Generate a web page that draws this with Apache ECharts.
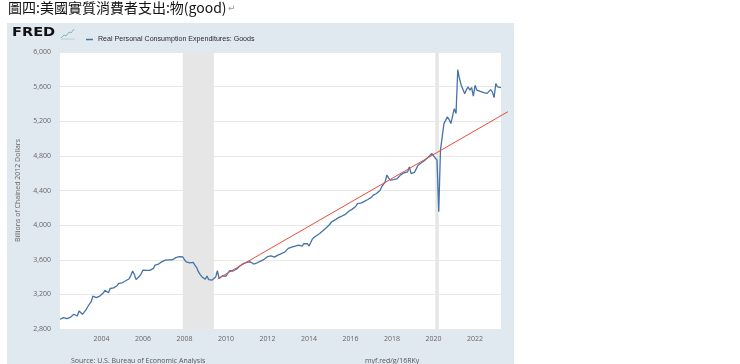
<!DOCTYPE html>
<html><head><meta charset="utf-8">
<script src="https://cdn.jsdelivr.net/npm/echarts@6/dist/echarts.min.js"></script>
<style>html,body{margin:0;padding:0;background:#fff}#c{width:740px;height:364px}</style>
</head><body><div id="c"></div>
<script>
const titleText = '圖四:美國實質消費者支出:物(good)';
const seriesName = 'Real Personal Consumption Expenditures: Goods';
const yAxisTitle = 'Billions of Chained 2012 Dollars';
const sourceText = 'Source: U.S. Bureau of Economic Analysis';
const linkText = 'myf.red/g/16RKy';

const startYear = 2002;
const g2002 = [2913, 2925, 2932, 2935, 2920, 2910, 2935, 2955, 2970, 2962, 2950, 3008];
const g2003 = [2985, 2970, 2995, 3020, 3057, 3080, 3115, 3180, 3168, 3163, 3172, 3180];
const g2004 = [3190, 3215, 3247, 3235, 3218, 3268, 3262, 3275, 3288, 3300, 3327, 3330];
const g2005 = [3334, 3345, 3357, 3370, 3381, 3420, 3470, 3430, 3370, 3385, 3412, 3440];
const g2006 = [3481, 3480, 3478, 3481, 3478, 3488, 3500, 3539, 3540, 3550, 3565, 3578];
const g2007 = [3590, 3596, 3600, 3598, 3604, 3600, 3615, 3624, 3630, 3635, 3640, 3632];
const g2008 = [3600, 3575, 3558, 3565, 3577, 3570, 3539, 3510, 3462, 3430, 3404, 3390];
const g2009 = [3374, 3412, 3370, 3357, 3365, 3374, 3400, 3473, 3384, 3405, 3415, 3423];
const g2010 = [3412, 3420, 3473, 3480, 3470, 3481, 3490, 3505, 3527, 3540, 3555, 3565];
const g2011 = [3570, 3575, 3577, 3570, 3550, 3555, 3565, 3570, 3585, 3596, 3605, 3620];
const g2012 = [3635, 3642, 3645, 3627, 3630, 3635, 3654, 3660, 3670, 3673, 3690, 3705];
const g2013 = [3731, 3738, 3745, 3750, 3758, 3765, 3770, 3765, 3758, 3785, 3808, 3785];
const g2014 = [3758, 3800, 3843, 3860, 3875, 3881, 3900, 3920, 3935, 3955, 3970, 3985];
const g2015 = [4010, 4036, 4045, 4060, 4072, 4087, 4095, 4105, 4112, 4125, 4140, 4160];
const g2016 = [4171, 4185, 4190, 4215, 4248, 4245, 4255, 4269, 4275, 4285, 4296, 4300];
const g2017 = [4320, 4344, 4350, 4365, 4384, 4400, 4441, 4470, 4499, 4577, 4545, 4519];
const g2018 = [4519, 4525, 4530, 4538, 4560, 4580, 4596, 4605, 4610, 4615, 4672, 4596];
const g2019 = [4600, 4610, 4650, 4692, 4700, 4720, 4740, 4750, 4760, 4788, 4785, 4827];
const g2020 = [4800, 4788, 4750, 4154, 4870, 5016, 5173, 5154, 5250, 5220, 5173, 5160];
const g2021 = [5346, 5289, 5795, 5691, 5616, 5627, 5519, 5565, 5596, 5560, 5590, 5489];
const g2022 = [5616, 5560, 5539, 5545, 5539, 5530, 5527, 5522, 5519, 5565, 5540, 5473];
const g2023 = [5635, 5596, 5616, 5589];
const yearly = [g2002, g2003, g2004, g2005, g2006, g2007, g2008, g2009, g2010, g2011, g2012,
  g2013, g2014, g2015, g2016, g2017, g2018, g2019, g2020, g2021, g2022, g2023];

const recessions = [[2007.917, 2009.417], [2020.083, 2020.25]];
const trendX = [2009.6, 2023.58];
const trendY = [3380, 5310];

const yMin = 2800, yMax = 6000, yStep = 400;
const xMin = 2002, xMax = 2023.25, xStep = 2;

const goodsData = [];
yearly.forEach((arr, yi) => arr.forEach((v, mi) => goodsData.push([startYear + yi + mi / 12, v])));
const trendData = trendX.map((x, i) => [x, trendY[i]]);

// layout: main plot area and an overlay area on the same scale that reaches a little further right
const W = 740, gLeft = 60, gRight = 239, gTop = 52, gBottom = 35;
const pxPerYear = (W - gLeft - gRight) / (xMax - xMin);
const trendMax = trendX[trendX.length - 1];
const gRight2 = gRight - (trendMax - xMax) * pxPerYear;

const chart = echarts.init(document.getElementById('c'), null, {renderer: 'canvas'});
const lblFont = 'Open Sans';
chart.setOption({
  animation: false,
  backgroundColor: 'transparent',
  grid: [
    {left: gLeft, right: gRight, top: gTop, bottom: gBottom, show: true, backgroundColor: '#ffffff', borderWidth: 0},
    {left: gLeft, right: gRight2, top: gTop, bottom: gBottom, show: false}
  ],
  legend: {
    data: [{name: seriesName, icon: 'rect'}],
    left: 81, top: 31, itemWidth: 7, itemHeight: 1.5, itemGap: 4,
    textStyle: {fontSize: 7.1, color: '#2b2b2b', fontFamily: 'Liberation Sans'},
    selectedMode: false
  },
  xAxis: [{
    gridIndex: 0, type: 'value', min: xMin, max: xMax, interval: xStep,
    axisLine: {show: false}, axisTick: {show: false}, splitLine: {show: false},
    axisLabel: {showMinLabel: false, showMaxLabel: false, formatter: v => String(Math.round(v)),
      color: '#666', fontSize: 7, margin: 6, fontFamily: lblFont}
  }, {
    gridIndex: 1, type: 'value', min: xMin, max: trendMax, show: false
  }],
  yAxis: [{
    gridIndex: 0, type: 'value', min: yMin, max: yMax, interval: yStep,
    name: yAxisTitle, nameLocation: 'middle', nameGap: 39,
    nameTextStyle: {fontSize: 7, color: '#666', fontFamily: lblFont},
    axisLine: {show: false}, axisTick: {show: false},
    splitLine: {lineStyle: {color: '#e8e8e8', width: 1}},
    axisLabel: {formatter: v => v.toLocaleString('en-US'), color: '#666', fontSize: 7, margin: 9, fontFamily: lblFont}
  }, {
    gridIndex: 1, type: 'value', min: yMin, max: yMax, show: false, splitLine: {show: false}
  }],
  series: [
    {
      name: seriesName, type: 'line', data: goodsData, showSymbol: false,
      xAxisIndex: 0, yAxisIndex: 0,
      lineStyle: {color: '#4572a7', width: 1.3}, itemStyle: {color: '#4572a7'},
      silent: true,
      markArea: {silent: true, itemStyle: {color: '#e6e6e6'},
        data: recessions.map(r => [{xAxis: r[0]}, {xAxis: r[1]}])}
    },
    {
      name: 'trend', type: 'line', data: trendData, showSymbol: false, z: 3,
      xAxisIndex: 1, yAxisIndex: 1,
      lineStyle: {color: '#ec4b3f', width: 1}, silent: true
    }
  ],
  graphic: {elements: [
    {type: 'rect', z: -100, shape: {x: 7, y: 23, width: 507, height: 341}, style: {fill: '#e1e9f0'}},
    {type: 'text', x: 8, y: 1, style: {text: titleText, font: '14px "Noto Sans CJK TC"', fill: '#111', textVerticalAlign: 'top'}},
    {type: 'text', x: 228, y: 4, style: {text: '↵', font: '9px "DejaVu Sans"', fill: '#999', textVerticalAlign: 'top'}},
    {type: 'text', x: 12, y: 26, scaleX: 1.12, style: {text: 'FRED', font: '900 13px "DejaVu Sans"', fill: '#111', textVerticalAlign: 'top'}},
    {type: 'polyline', shape: {points: [[61, 38], [64, 35], [66, 36], [69, 32], [71, 33], [74, 29]]}, style: {stroke: '#8fb5a6', lineWidth: 1, fill: null}},
    {type: 'polyline', shape: {points: [[61, 39], [75, 39]]}, style: {stroke: '#b9c9d6', lineWidth: 1, fill: null}},
    {type: 'text', x: 71, y: 361, style: {text: sourceText, font: '7px "Open Sans"', fill: '#555', textVerticalAlign: 'middle'}},
    {type: 'text', x: 365, y: 361, style: {text: linkText, font: '7px "Open Sans"', fill: '#555', textVerticalAlign: 'middle'}}
  ]}
});
</script></body></html>
